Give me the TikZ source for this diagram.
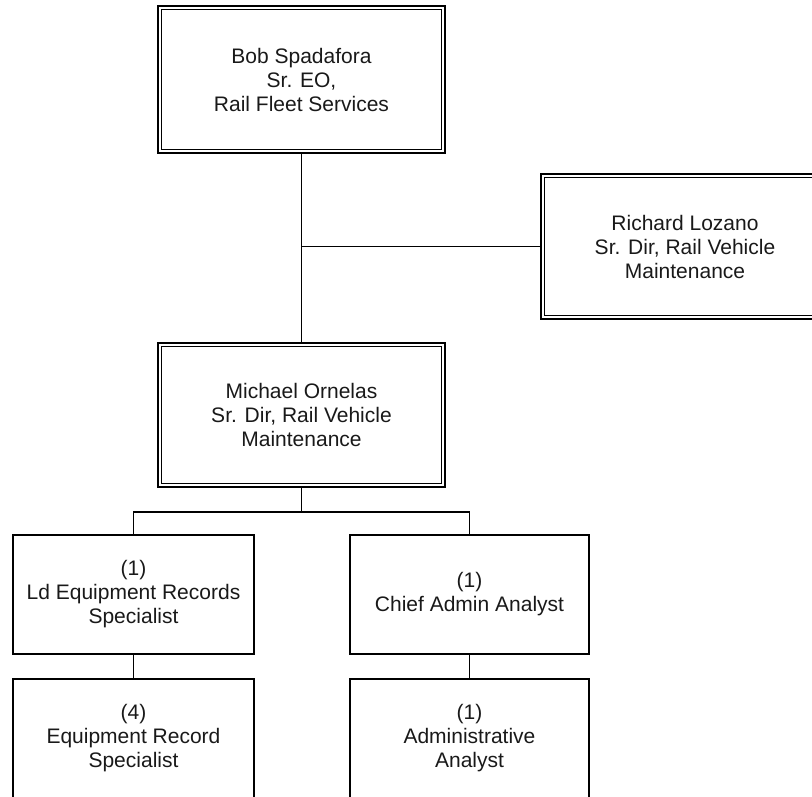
\documentclass[tikz,border=0pt]{standalone}
\usepackage{fontspec}
\setmainfont{Liberation Sans}
\begin{document}
\begin{tikzpicture}[x=1pt,y=1pt,
  box/.style={draw=black, line width=1.8pt, inner sep=0pt, align=center,
    font=\fontsize{21}{24}\selectfont, text=black!90},
  conn/.style={draw=black, line width=1.8pt},
  inner/.style={draw=black, line width=1.3pt}]
\useasboundingbox (0,0) rectangle (812,-797);
\node[box, minimum width=287, minimum height=147] (A) at (301.5,-79.5)
  {Bob Spadafora\\Sr. EO,\\Rail Fleet Services};
\node[box, minimum width=288, minimum height=145] (R) at (685,-246.5)
  {Richard Lozano\\Sr. Dir, Rail Vehicle\\Maintenance};
\node[box, minimum width=287, minimum height=144] (M) at (301.5,-415)
  {Michael Ornelas\\Sr. Dir, Rail Vehicle\\Maintenance};
\node[box, minimum width=241, minimum height=119] (L1) at (133.5,-594.5)
  {(1)\\Ld Equipment Records\\Specialist};
\node[box, minimum width=239, minimum height=119] (C1) at (469.5,-594.5)
  {(1)\\Chief Admin Analyst};
\node[box, minimum width=241, minimum height=119] (L2) at (133.5,-738.5)
  {(4)\\Equipment Record\\Specialist};
\node[box, minimum width=239, minimum height=119] (C2) at (469.5,-738.5)
  {(1)\\Administrative\\Analyst};
% inner borders of double boxes
\foreach \n in {A,R,M}{
  \draw[inner] ([shift={(4.5,-4.5)}]\n.north west) rectangle ([shift={(-4.5,4.5)}]\n.south east);
}
% connectors
\draw[conn] (A.south) -- (M.north);
\coordinate (b) at (A.south |- R.west);
\draw[conn] (b) -- (R.west);
\draw[conn] (M.south) -- ++(0,-24) coordinate (j);
\draw[conn] (L1.north) |- (j) -| (C1.north);
\draw[conn] (L1.south) -- (L2.north);
\draw[conn] (C1.south) -- (C2.north);
\end{tikzpicture}
\end{document}
